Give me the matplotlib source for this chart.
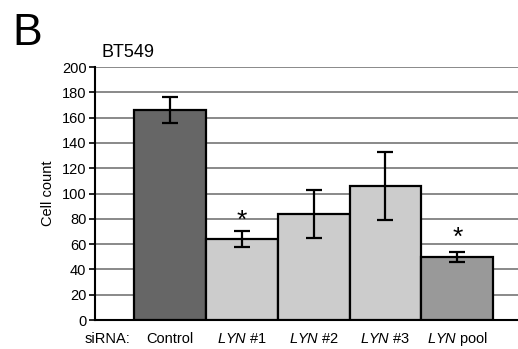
import matplotlib
matplotlib.use('Agg')
import matplotlib.pyplot as plt
import numpy as np

plt.rcParams['font.family'] = ['Liberation Sans', 'DejaVu Sans']
plt.rcParams['mathtext.fontset'] = 'custom'
plt.rcParams['mathtext.it'] = 'Liberation Sans:italic'
plt.rcParams['mathtext.rm'] = 'Liberation Sans'

# data
groups = ['Control', r'$\it{LYN}$ #1', r'$\it{LYN}$ #2', r'$\it{LYN}$ #3', r'$\it{LYN}$ pool']
cell_count = [166, 64, 84, 106, 50]
errors = [10, 6, 19, 27, 4]
significant = [False, True, False, False, True]
star_y = [0, 78, 0, 0, 65]
bar_colors = ['#666666', '#cccccc', '#cccccc', '#cccccc', '#999999']
yticks = list(range(0, 201, 20))

fig = plt.figure(figsize=(5.18, 3.49), dpi=100)
ax = fig.add_axes([0.183, 0.083, 0.83, 0.725])

x = np.arange(len(groups))
ax.bar(x, cell_count, width=1.0, color=bar_colors, edgecolor='black', linewidth=1.6, zorder=3)
ax.errorbar(x, cell_count, yerr=errors, fmt='none', ecolor='black', elinewidth=1.6,
            capsize=5.5, capthick=1.6, zorder=4)

for i in range(len(groups)):
    if significant[i]:
        ax.text(x[i], star_y[i], '*', ha='center', va='center', fontsize=19, zorder=5)

ax.set_ylim(0, 200)
ax.set_xlim(-1.05, 4.94)
ax.set_yticks(yticks)
ax.yaxis.grid(True, color='#808080', linewidth=1.3, zorder=0)
ax.set_axisbelow(True)
ax.tick_params(axis='y', labelsize=10.5, length=4, width=1.2, direction='out', pad=2)

ax.set_xticks([-0.87] + list(x))
ax.set_xticklabels(['siRNA:'] + groups, fontsize=10.5, va='baseline')
ax.tick_params(axis='x', length=0, pad=16.5)

for side in ['top', 'right']:
    ax.spines[side].set_visible(False)
ax.spines['left'].set_linewidth(1.5)
ax.spines['bottom'].set_linewidth(1.5)

ax.set_ylabel('Cell count', fontsize=10.5, labelpad=5)

fig.text(0.196, 0.837, 'BT549', fontsize=13, ha='left', va='baseline')
fig.text(0.024, 0.871, 'B', fontsize=32, ha='left', va='baseline')

fig.savefig('out.png', dpi=100)
